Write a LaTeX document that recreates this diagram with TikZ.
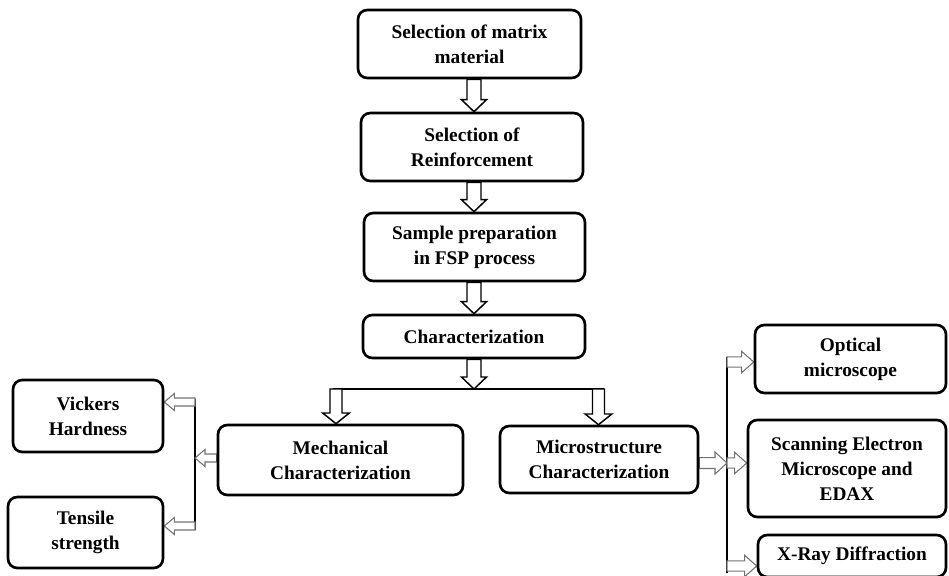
\documentclass[tikz,border=0pt]{standalone}
\usepackage{fontspec}
\setmainfont{Liberation Serif}
\usetikzlibrary{backgrounds,calc}
\tikzset{
  box/.style={draw, line width=2pt, rounded corners=7pt, align=center,
    font=\fontsize{14.5}{18.75}\selectfont\bfseries, inner sep=0pt, fill=white},
  wh/.style 2 args={minimum width=#1*0.75pt, minimum height=#2*0.75pt},
  barrow/.style={draw=black, line width=1.1pt, fill=white, line join=miter},
  sarrow/.style={draw=black!55, line width=0.8pt, fill=white, line join=miter},
  bar/.style={line width=1.8pt},
}
% vertical (downward) block arrow: style, from, to, shaft half, head half, head length
\newcommand{\darrow}[6]{\draw[#1] let \p1=#2, \p2=#3 in
  (\x1-#4,\y1) -- (\x1-#4,\y2+#6) -- (\x1-#5,\y2+#6) -- (\x1,\y2) --
  (\x1+#5,\y2+#6) -- (\x1+#4,\y2+#6) -- (\x1+#4,\y1) -- cycle;}
% rightward block arrow
\newcommand{\rarrow}[6]{\draw[#1] let \p1=#2, \p2=#3 in
  (\x1,\y1+#4) -- (\x2-#6,\y1+#4) -- (\x2-#6,\y1+#5) -- (\x2,\y1) --
  (\x2-#6,\y1-#5) -- (\x2-#6,\y1-#4) -- (\x1,\y1-#4) -- cycle;}
% leftward block arrow
\newcommand{\larrow}[6]{\draw[#1] let \p1=#2, \p2=#3 in
  (\x1,\y1+#4) -- (\x2+#6,\y1+#4) -- (\x2+#6,\y1+#5) -- (\x2,\y1) --
  (\x2+#6,\y1-#5) -- (\x2+#6,\y1-#4) -- (\x1,\y1-#4) -- cycle;}
\begin{document}
\begin{tikzpicture}[x=0.75pt,y=-0.75pt]
\useasboundingbox (0,0) rectangle (949,575);
\clip (0,0) rectangle (949,575);

% boxes
\node[box, wh={223}{68}] (m1) at (469.5,44) {Selection of matrix\\material};
\node[box, wh={222}{68}] (m2) at (472,147) {Selection of\\Reinforcement};
\node[box, wh={221}{68}] (m3) at (474.5,247) {Sample preparation\\in FSP process};
\node[box, wh={222}{43}] (ch) at (474,336.5) {Characterization};
\node[box, wh={245}{70}] (mech) at (340.5,460) {Mechanical\\Characterization};
\node[box, wh={198}{67}] (micro) at (599,459.5) {Microstructure\\Characterization};
\node[box, wh={150}{72}] (vick) at (88,416) {Vickers\\Hardness};
\node[box, wh={155}{71}] (tens) at (85.5,532.5) {Tensile\\strength};
\node[box, wh={191}{68}] (opt) at (850.5,359) {Optical\\microscope};
\node[box, wh={198}{97}] (sem) at (847,468.5) {Scanning Electron\\Microscope and\\EDAX};
\node[box, wh={188}{42}] (xray) at (852,556) {X-Ray Diffraction};

% helper coordinates
\coordinate (ax) at (474,0);
\coordinate (hbl) at (333,389);
\coordinate (hbr) at (604,389);
\coordinate (d1) at (336,389);
\coordinate (d2) at (598.5,389);
\coordinate (lt) at (195,399);
\coordinate (lb) at (195,530);
\coordinate (l1) at (195,402);
\coordinate (l2) at (195,458);
\coordinate (l3) at (195,526);
\coordinate (rt) at (727,357);
\coordinate (rb) at (727,573);
\coordinate (r1) at (727,362);
\coordinate (r2) at (727,463);
\coordinate (r3) at (727,566);

\begin{scope}[on background layer]
% main chain
\darrow{barrow}{(m1.south -| ax)}{(m2.north -| ax)}{5.25pt}{9.4pt}{9pt}
\darrow{barrow}{(m2.south -| ax)}{(m3.north -| ax)}{5.25pt}{9.4pt}{9pt}
\darrow{barrow}{(m3.south -| ax)}{(ch.north -| ax)}{5.25pt}{9.4pt}{9pt}
\darrow{barrow}{(ch.south -| ax)}{(hbl -| ax)}{5.25pt}{9.4pt}{9pt}
% branch bar
\draw[bar] (hbl) -- (hbr);
\darrow{barrow}{(d1)}{(d1 |- mech.north)}{4.5pt}{10pt}{8pt}
\darrow{barrow}{(d2)}{(d2 |- micro.north)}{4.5pt}{10pt}{8pt}
% left side
\draw[bar] (lt) -- (lb);
\larrow{sarrow}{(mech.west |- l2)}{(l2)}{3pt}{6.4pt}{7.5pt}
\larrow{sarrow}{(l1)}{(vick.east |- l1)}{3pt}{6.4pt}{7.5pt}
\larrow{sarrow}{(l3)}{(tens.east |- l3)}{3pt}{6.4pt}{7.5pt}
% right side
\draw[bar] (rt) -- (rb);
\rarrow{sarrow}{(micro.east |- r2)}{(r2)}{4.1pt}{8.25pt}{9pt}
\rarrow{sarrow}{(r1)}{(opt.west |- r1)}{3.8pt}{8pt}{9pt}
\rarrow{sarrow}{(r2)}{(sem.west |- r2)}{3.8pt}{8pt}{9pt}
\rarrow{sarrow}{(r3)}{(xray.west |- r3)}{3.8pt}{8pt}{9pt}
\end{scope}
\end{tikzpicture}
\end{document}
